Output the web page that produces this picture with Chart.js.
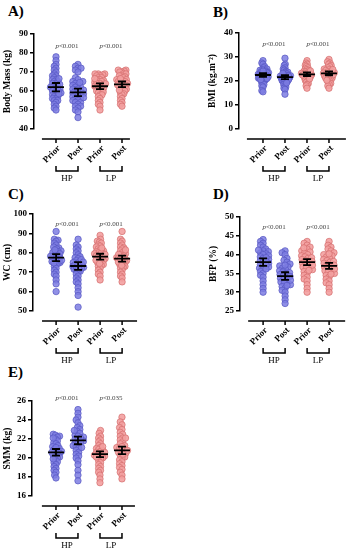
<!DOCTYPE html>
<html>
<head>
<meta charset="utf-8">
<script src="https://cdn.jsdelivr.net/npm/chart.js@4.4.1/dist/chart.umd.min.js"></script>
<style>
  body { margin: 0; background: #fff; width: 348px; height: 550px; position: relative; overflow: hidden; }
  canvas { position: absolute; }
  .tag { position: absolute; font: bold 15px "Liberation Serif", serif; color: #000; }
</style>
</head>
<body>
<div class="tag" style="left:8px;top:3px">A)</div>
<div class="tag" style="left:213px;top:4px">B)</div>
<div class="tag" style="left:8px;top:186px">C)</div>
<div class="tag" style="left:213px;top:186px">D)</div>
<div class="tag" style="left:8px;top:364px">E)</div>
<canvas id="chartA"></canvas>
<canvas id="chartB"></canvas>
<canvas id="chartC"></canvas>
<canvas id="chartD"></canvas>
<canvas id="chartE"></canvas>
<script>
// Categories
const timepoints = ['Prior', 'Post', 'Prior', 'Post'];
const programs = ['HP', 'LP'];

// A) Body mass (kg)
const massHPPrior = [78, 76, 74, 73, 72, 71, 70, 69, 68, 68, 67, 66, 66, 65, 65, 64, 64, 63, 63, 62, 62, 62, 61, 61, 60, 60, 59, 59, 58, 58, 57, 57, 56, 56, 55, 55, 54, 53, 52, 51, 50, 66.5, 63.5, 60.5, 58.5];
const massHPPost = [74, 73, 72, 72, 71, 70, 67, 66, 65, 65, 64, 63, 63, 62, 62, 61, 61, 60, 60, 59, 59, 58, 58, 57, 57, 56, 56, 55, 55, 54, 54, 53, 52, 52, 51, 50, 49, 46, 64.5, 60.5, 58.5, 56.5];
const massLPPrior = [69, 69, 69, 68.5, 68, 68, 67, 67, 66, 66, 65.5, 65, 65, 64.5, 64, 64, 63.5, 63, 63, 62.5, 62, 62, 61.5, 61, 61, 60, 60, 59.5, 59, 58, 58, 57, 56, 55, 54, 53, 52, 50, 66.5, 63.8];
const massLPPost = [71, 71, 70.5, 70, 70, 69, 69, 68, 68, 67.5, 67, 66, 66, 65.5, 65, 65, 64.5, 64, 64, 63.5, 63, 62.5, 62, 62, 61.5, 61, 60, 60, 59, 58.5, 58, 57, 56, 55, 54, 53, 52, 66.5, 63.2, 60.5];
const massMeans = [62, 59.3, 62.5, 63.5];
const massCI = [2.2, 2.0, 1.5, 1.5];

// B) BMI (kg.m-2)
const bmiHPPrior = [28.5, 27.5, 27, 26, 25.5, 25, 24.8, 24.5, 24.2, 24, 23.8, 23.5, 23.3, 23, 22.8, 22.6, 22.5, 22.3, 22, 21.8, 21.6, 21.4, 21.2, 21, 20.8, 20.5, 20.2, 20, 19.5, 19, 18.5, 18, 17.5, 16, 15.5, 23.1, 22.1, 21.1, 24.1, 20.6];
const bmiHPPost = [29.5, 27, 26.5, 25.5, 25, 24.5, 24, 23.7, 23.4, 23, 22.7, 22.4, 22.2, 22, 21.8, 21.6, 21.4, 21.2, 21, 20.8, 20.5, 20.2, 20, 19.8, 19.5, 19, 18.5, 18, 17.5, 17, 16.5, 14.5, 22.1, 21.3, 20.6, 23.2, 19.2];
const bmiLPPrior = [28.5, 27.5, 27, 26.5, 26, 25.5, 25, 24.7, 24.4, 24, 23.8, 23.5, 23.2, 23, 22.8, 22.6, 22.4, 22.2, 22, 21.7, 21.4, 21, 20.7, 20.3, 20, 19.5, 19, 18.5, 18, 17, 23.1, 22.5, 21.9, 24.2, 20.9];
const bmiLPPost = [29, 28, 27.5, 27, 26.5, 26, 25.5, 25, 24.7, 24.4, 24, 23.8, 23.5, 23.3, 23, 22.8, 22.5, 22.2, 22, 21.7, 21.4, 21, 20.5, 20, 19.5, 19, 18.5, 18, 17, 23.6, 22.6, 24.8, 21.2, 20.3];
const bmiMeans = [22.5, 21.6, 22.8, 23.2];
const bmiCI = [0.8, 0.8, 0.8, 0.8];

// C) WC (cm)
const wcHPPrior = [91, 87, 86.5, 86, 85, 84, 83, 82.5, 82, 81, 80.5, 80, 79.5, 79, 78.5, 78, 78, 77.5, 77, 76.5, 76, 75.5, 75, 74.5, 74, 73, 72, 71, 70, 69, 68, 66, 64, 60, 80.2, 78.2, 76.2, 81.5, 74.8];
const wcHPPost = [87, 84, 83, 82, 81, 80, 79, 78, 77.5, 77, 76, 75.5, 75, 74.5, 74, 73.5, 73, 72.5, 72, 71.5, 71, 70.5, 70, 69, 68, 67, 66, 65, 64, 62, 60, 58, 52, 76.5, 73.8, 72.8, 71.8, 75.2];
const wcLPPrior = [89, 87, 86, 85.5, 85, 84, 83.5, 83, 82, 81.5, 81, 80.5, 80, 79.5, 79, 78.5, 78, 77.5, 77, 76.5, 76, 75.5, 75, 74, 73.5, 73, 72, 71, 70, 69, 68, 66, 80.2, 78.2, 76.2, 82.5, 74.5, 79.2];
const wcLPPost = [91, 87, 86, 85, 84, 83, 82.5, 82, 81, 80.5, 80, 79.5, 79, 78.5, 78, 77.5, 77, 76.5, 76, 75.5, 75, 74.5, 74, 73, 72.5, 72, 71, 70, 69, 68, 67, 65, 79.2, 77.2, 75.2, 81.5, 73.5, 76.8];
const wcMeans = [77.5, 73.2, 78, 77];
const wcCI = [1.8, 2.0, 1.5, 1.5];

// D) BFP (%)
const bfpHPPrior = [44, 43.5, 43, 42.5, 42, 41.5, 41, 40.8, 40.5, 40.2, 40, 39.7, 39.4, 39, 38.7, 38.4, 38, 37.7, 37.4, 37, 36.7, 36.4, 36, 35.5, 35, 34.5, 34, 33, 32, 31, 30, 39.2, 38.2, 37.2, 41.2, 36.2];
const bfpHPPost = [41, 40.5, 40, 39, 38.5, 38, 37.5, 37, 36.7, 36.4, 36, 35.7, 35.4, 35, 34.7, 34.4, 34, 33.7, 33.4, 33, 32.7, 32.4, 32, 31.5, 31, 30.5, 30, 29, 28, 27, 35.2, 34.2, 33.2, 37.2, 31.8];
const bfpLPPrior = [43.5, 43, 42.5, 42, 41.5, 41, 40.7, 40.4, 40, 39.7, 39.4, 39, 38.7, 38.4, 38, 37.7, 37.4, 37, 36.7, 36.4, 36, 35.5, 35, 34.5, 34, 33.5, 33, 32, 31, 30, 39.2, 38.2, 37.2, 41.8, 35.8];
const bfpLPPost = [43.5, 42.5, 42, 41.5, 41, 40.5, 40, 39.7, 39.4, 39, 38.7, 38.4, 38, 37.7, 37.4, 37, 36.7, 36.4, 36, 35.7, 35.4, 35, 34.5, 34, 33.5, 33, 32.5, 32, 31, 30, 38.2, 37.2, 36.2, 40.2, 34.8];
const bfpMeans = [38, 34.3, 38, 37];
const bfpCI = [1.0, 1.0, 0.8, 0.8];

// E) SMM (kg)
const smmHPPrior = [22.5, 22.4, 22.3, 22.2, 22, 21.8, 21.6, 21.5, 21.3, 21.2, 21, 20.9, 20.8, 20.7, 20.6, 20.5, 20.4, 20.3, 20.2, 20.1, 20, 19.8, 19.6, 19.5, 19.3, 19.1, 18.9, 18.7, 18.5, 18.2, 17.9, 21.1, 20.6, 19.9, 22.1];
const smmHPPost = [25.1, 24.7, 24.3, 24, 23.7, 23.4, 23.2, 23, 22.8, 22.6, 22.4, 22.3, 22.2, 22, 21.9, 21.8, 21.6, 21.5, 21.3, 21.2, 21, 20.8, 20.6, 20.4, 20.2, 20, 19.7, 19.3, 18.7, 18.2, 17.6, 22.1, 21.7, 22.9, 21.1];
const smmLPPrior = [22.9, 22.6, 22.3, 22.1, 21.9, 21.7, 21.5, 21.3, 21.1, 21, 20.9, 20.8, 20.7, 20.6, 20.5, 20.4, 20.3, 20.2, 20.1, 20, 19.9, 19.7, 19.5, 19.3, 19.1, 18.9, 18.7, 18.5, 18.2, 17.8, 17.4, 20.6, 20.3, 20.1, 21.2];
const smmLPPost = [24.3, 23.8, 23.5, 23.2, 23, 22.7, 22.5, 22.3, 22.1, 21.9, 21.7, 21.5, 21.3, 21.1, 21, 20.9, 20.8, 20.6, 20.5, 20.3, 20.1, 20, 19.8, 19.6, 19.4, 19.2, 19, 18.8, 18.5, 18.2, 17.8, 21.2, 20.8, 20.4, 22.1];
const smmMeans = [20.6, 21.85, 20.4, 20.8];
const smmCI = [0.35, 0.4, 0.3, 0.4];

// Axis ranges [min, max, step] and p-value labels
const massAxis = [40, 90, 10];
const bmiAxis = [0, 40, 10];
const wcAxis = [50, 100, 10];
const bfpAxis = [25, 50, 5];
const smmAxis = [16, 26, 2];
const massP = ['<0.001', '<0.001'];
const bmiP = ['<0.001', '<0.001'];
const wcP = ['<0.001', '<0.001'];
const bfpP = ['<0.001', '<0.001'];
const smmP = ['<0.001', '<0.035'];

// Layout of each panel (pixels); xMin puts the first column 22px per category
const panels = [
  { id: 'chartA', left: 0, top: 0, w: 174, h: 182, yW: 34, padTop: 34, padBottom: 53, xMin: 0, line: [0.36, 4.36], pY: 83.7,
    title: 'Body Mass (kg)', axis: massAxis, groups: [massHPPrior, massHPPost, massLPPrior, massLPPost], means: massMeans, ci: massCI, p: massP },
  { id: 'chartB', left: 205, top: 0, w: 143, h: 182, yW: 34, padTop: 33, padBottom: 53, xMin: -0.09, line: [0.27, 4.77], pY: 35.4,
    title: 'BMI (kg.m\u207B\u00B2)', axis: bmiAxis, groups: [bmiHPPrior, bmiHPPost, bmiLPPrior, bmiLPPost], means: bmiMeans, ci: bmiCI, p: bmiP },
  { id: 'chartC', left: 0, top: 182, w: 174, h: 183, yW: 33, padTop: 32, padBottom: 54, xMin: -0.05, line: [0.36, 4.68], pY: 94.8,
    title: 'WC (cm)', axis: wcAxis, groups: [wcHPPrior, wcHPPost, wcLPPrior, wcLPPost], means: wcMeans, ci: wcCI, p: wcP },
  { id: 'chartD', left: 206, top: 182, w: 142, h: 183, yW: 34, padTop: 35, padBottom: 54, xMin: -0.05, line: [0.32, 4.73], pY: 47.3,
    title: 'BFP (%)', axis: bfpAxis, groups: [bfpHPPrior, bfpHPPost, bfpLPPrior, bfpLPPost], means: bfpMeans, ci: bfpCI, p: bfpP },
  { id: 'chartE', left: 0, top: 365, w: 174, h: 185, yW: 32, padTop: 36, padBottom: 54, xMin: -0.09, line: [0.36, 4.59], pY: 26.3,
    title: 'SMM (kg)', axis: smmAxis, groups: [smmHPPrior, smmHPPost, smmLPPrior, smmLPPost], means: smmMeans, ci: smmCI, p: smmP }
];

const PX_PER_CAT = 22;
const MAX_SPREAD = 5.5; // half width of a column, pixels
const fills = ['rgba(124,124,226,0.85)', 'rgba(124,124,226,0.85)', 'rgba(243,160,160,0.9)', 'rgba(243,160,160,0.9)'];
const borders = ['#5656c2', '#5656c2', '#d46d6d', '#d46d6d'];
const serif = '"Liberation Serif", "Times New Roman", serif';

// Simple beeswarm: spread points sideways (in pixels) so they don't pile up
function swarm(values, pxPerUnit, d) {
  const order = values.map((v, i) => i).sort((a, b) => values[a] - values[b]);
  const placed = [];
  const off = new Array(values.length);
  order.forEach(i => {
    const y = values[i] * pxPerUnit;
    const blocked = [];
    placed.forEach(p => {
      const dy = Math.abs(p.y - y);
      if (dy < d) {
        const dx = Math.sqrt(d * d - dy * dy);
        blocked.push([p.x - dx, p.x + dx]);
      }
    });
    const cands = [0];
    blocked.forEach(b => cands.push(b[0], b[1]));
    cands.sort((a, b) => Math.abs(a) - Math.abs(b));
    let x = 0;
    for (const c of cands) {
      if (blocked.every(b => c <= b[0] + 1e-6 || c >= b[1] - 1e-6)) { x = c; break; }
    }
    placed.push({ x: x, y: y });
    off[i] = x;
  });
  // squeeze the column so it keeps the width of the original
  const widest = Math.max(...off.map(Math.abs));
  const k = widest > MAX_SPREAD ? MAX_SPREAD / widest : 1;
  return off.map(o => o * k);
}

// Draws error bars, the offset x axis, rotated labels, brackets and p values
const prismDecor = {
  id: 'prismDecor',
  afterDatasetsDraw(chart, args, opts) {
    const ctx = chart.ctx;
    const xs = chart.scales.x, ys = chart.scales.y;
    const area = chart.chartArea;
    ctx.save();
    ctx.strokeStyle = '#000';
    ctx.fillStyle = '#000';

    // mean +- CI
    ctx.lineWidth = 1.8;
    opts.means.forEach((m, i) => {
      const x = xs.getPixelForValue(i + 1);
      const yTop = ys.getPixelForValue(m + opts.ci[i]);
      const yBot = ys.getPixelForValue(m - opts.ci[i]);
      const yM = ys.getPixelForValue(m);
      ctx.beginPath();
      ctx.moveTo(x - 8, yM); ctx.lineTo(x + 8, yM);
      ctx.moveTo(x, yTop); ctx.lineTo(x, yBot);
      ctx.moveTo(x - 4, yTop); ctx.lineTo(x + 4, yTop);
      ctx.moveTo(x - 4, yBot); ctx.lineTo(x + 4, yBot);
      ctx.stroke();
    });

    // x axis line with ticks
    const axisY = area.bottom + 10;
    ctx.lineWidth = 1.5;
    ctx.beginPath();
    ctx.moveTo(xs.getPixelForValue(opts.line[0]), axisY);
    ctx.lineTo(xs.getPixelForValue(opts.line[1]), axisY);
    timepoints.forEach((t, i) => {
      const x = xs.getPixelForValue(i + 1);
      ctx.moveTo(x, axisY); ctx.lineTo(x, axisY + 4);
    });
    ctx.stroke();

    // rotated category labels
    ctx.font = 'bold 9px ' + serif;
    ctx.textAlign = 'right';
    ctx.textBaseline = 'middle';
    timepoints.forEach((t, i) => {
      const x = xs.getPixelForValue(i + 1);
      ctx.save();
      ctx.translate(x + 3, axisY + 8);
      ctx.rotate(-Math.PI / 4);
      ctx.fillText(t, 0, 0);
      ctx.restore();
    });

    // group brackets and p values
    programs.forEach((g, k) => {
      const x1 = xs.getPixelForValue(2 * k + 1);
      const x2 = xs.getPixelForValue(2 * k + 2);
      ctx.lineWidth = 1.5;
      ctx.beginPath();
      ctx.moveTo(x1, axisY + 27); ctx.lineTo(x1, axisY + 32);
      ctx.lineTo(x2, axisY + 32); ctx.lineTo(x2, axisY + 27);
      ctx.stroke();
      ctx.font = '9px ' + serif;
      ctx.textAlign = 'center';
      ctx.fillText(g, (x1 + x2) / 2, axisY + 40);

      // "p" in italics followed by the value
      const py = ys.getPixelForValue(opts.pY);
      ctx.fillStyle = '#444';
      ctx.font = 'italic 7px ' + serif;
      const wp = ctx.measureText('p').width;
      ctx.font = '7px ' + serif;
      const wv = ctx.measureText(opts.p[k]).width;
      const start = (x1 + x2) / 2 - (wp + wv) / 2;
      ctx.textAlign = 'left';
      ctx.font = 'italic 7px ' + serif;
      ctx.fillText('p', start, py);
      ctx.font = '7px ' + serif;
      ctx.fillText(opts.p[k], start + wp, py);
      ctx.fillStyle = '#000';
    });
    ctx.restore();
  }
};

panels.forEach(pn => {
  const canvas = document.getElementById(pn.id);
  canvas.width = pn.w;
  canvas.height = pn.h;
  canvas.style.left = pn.left + 'px';
  canvas.style.top = pn.top + 'px';

  const [yMin, yMax, yStep] = pn.axis;
  const pxPerY = (pn.h - pn.padTop - pn.padBottom) / (yMax - yMin);
  const xMax = pn.xMin + (pn.w - 4 - pn.yW) / PX_PER_CAT;

  const datasets = pn.groups.map((vals, i) => {
    const off = swarm(vals, pxPerY, 3.6);
    return {
      label: timepoints[i],
      data: vals.map((v, j) => ({ x: i + 1 + off[j] / PX_PER_CAT, y: v })),
      backgroundColor: fills[i],
      borderColor: borders[i],
      borderWidth: 0.7,
      pointRadius: 3.2,
      pointHoverRadius: 3.2
    };
  });

  new Chart(canvas.getContext('2d'), {
    type: 'scatter',
    data: { datasets: datasets },
    plugins: [prismDecor],
    options: {
      responsive: false,
      animation: false,
      layout: { padding: { top: pn.padTop, bottom: pn.padBottom, left: 0, right: 4 } },
      plugins: {
        legend: { display: false },
        tooltip: { enabled: false },
        prismDecor: { means: pn.means, ci: pn.ci, p: pn.p, pY: pn.pY, line: pn.line }
      },
      scales: {
        x: { type: 'linear', display: false, min: pn.xMin, max: xMax },
        y: {
          min: yMin, max: yMax,
          afterFit: scale => { scale.width = pn.yW; },
          ticks: { stepSize: yStep, color: '#000', font: { family: serif, size: 9, weight: 'bold' }, padding: 2 },
          grid: { drawOnChartArea: false, tickLength: 4, color: '#000', lineWidth: 1.5 },
          border: { color: '#000', width: 1.5 },
          title: { display: true, text: pn.title, color: '#000', font: { family: serif, size: 9.5, weight: 'bold' }, padding: 2 }
        }
      }
    }
  });
});
</script>
</body>
</html>
